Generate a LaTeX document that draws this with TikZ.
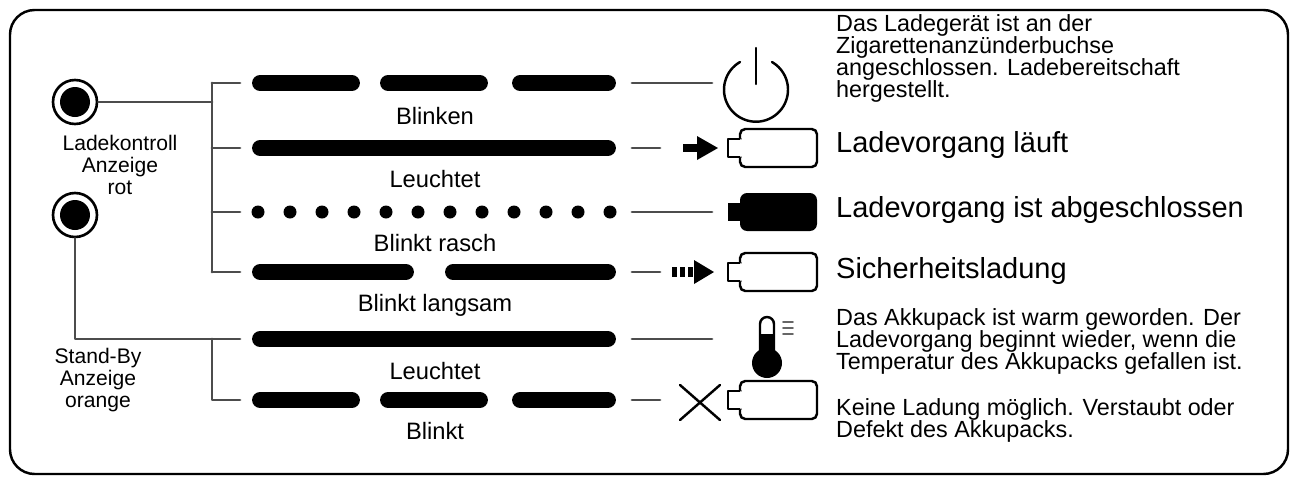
\documentclass[tikz,border=0pt]{standalone}
\usepackage{fontspec}
\setmainfont{Liberation Sans}
\begin{document}
\begin{tikzpicture}[x=0.02cm,y=-0.02cm,line cap=round,line join=round]
	\tikzset{
		wire/.style={line width=1.6pt,black!70},
		bar/.style={line width=9pt,line cap=round},
		lbl/.style={font=\fontsize{13.5}{13.5}\selectfont},
		txt/.style={anchor=west,font=\fontsize{16.5}{16.5}\selectfont},
		small/.style={anchor=north west,align=left,font=\fontsize{13.3}{12.6}\selectfont},
		side/.style={align=center,font=\fontsize{12}{12.6}\selectfont},
		batt/.style={line width=1.4pt,rounded corners=3pt}
	}
	\useasboundingbox (0,0) rectangle (1296,484);
	\draw [line width=1.4pt,rounded corners=14pt] (10,10) rectangle (1288,474);
	% LEDs
	\node (ledA) [circle,draw,line width=1.5pt,minimum size=0.88cm] at (75,102) {};
	\fill (ledA) circle (15);
	\node (ledB) [circle,draw,line width=1.5pt,minimum size=0.88cm] at (75,215) {};
	\fill (ledB) circle (15);
	\node (tA) [side] at (120,165) {Ladekontroll\\Anzeige\\rot};
	\node (tB) [side] at (98,380) {Stand-By\\Anzeige\\orange};
	% wiring
	\coordinate (jA) at (212,102);
	\coordinate (jB) at (75,339);
	\draw [wire] (ledA) -- (jA);
	\draw [wire] (212,83) -- (212,272);
	\foreach \y in {83,148,212,272} \draw [wire] (212,\y) -- (240,\y);
	\draw [wire] (ledB) -- (jB) -- (240,339);
	\draw [wire] (212,339) -- (212,400) -- (240,400);
	% patterns
	\foreach \a/\b in {260/352,388/480,520/608} {
		\draw [bar] (\a,83) -- (\b,83);
		\draw [bar] (\a,400) -- (\b,400);
	}
	\draw [bar] (260,148) -- (608,148);
	\draw [bar] (260,339) -- (608,339);
	\foreach \i in {0,...,11} \fill (258+\i*32,212) circle (6.5);
	\draw [bar] (260,272) -- (406,272);
	\draw [bar] (453,272) -- (608,272);
	\node (l1) [lbl] at (435,116) {Blinken};
	\node (l2) [lbl] at (435,179) {Leuchtet};
	\node (l3) [lbl] at (435,243) {Blinkt rasch};
	\node (l4) [lbl] at (435,305) {Blinkt langsam};
	\node (l5) [lbl] at (435,371) {Leuchtet};
	\node (l6) [lbl] at (435,431) {Blinkt};
	% connectors
	\draw [wire] (632,83) -- (712,83);
	\draw [wire] (632,148) -- (660,148);
	\draw [wire] (632,212) -- (712,212);
	\draw [wire] (632,272) -- (660,272);
	\draw [wire] (632,339) -- (712,339);
	\draw [wire] (632,400) -- (660,400);
	% icons
	\draw [line width=1.4pt] (740,62) arc (-120:-420:32);
	\draw [line width=1.4pt] (756,48) -- (756,84);
	\fill (683,144) rectangle (699,152);
	\fill (697,136) -- (718,148) -- (697,160) -- cycle;
	\foreach \x in {672,680,688} \fill (\x,267) rectangle (\x+5,277);
	\fill (694,260) -- (714,272) -- (694,284) -- cycle;
	\foreach \y in {148,272,400} {
		\draw [batt] (740,\y-19) rectangle (817,\y+19);
		\draw [line width=1.4pt,fill=white] (728,\y-9) rectangle (741,\y+9);
		\draw [white,line width=1.6pt] (741,\y-8) -- (741,\y+8);
	}
	\fill [rounded corners=4pt] (740,193) rectangle (817,231);
	\fill (728,203) rectangle (742,221);
	\draw [line width=1.4pt] (680,385) -- (720,420) (680,420) -- (720,385);
	% thermometer
	\draw [line width=1.4pt] (760,356) -- (760,324) arc (180:360:7) -- (774,356);
	\fill (760,334) rectangle (774,360);
	\fill (767,363) circle (15);
	\draw [line width=1pt,black!60] (783,322) -- (793,322) (783,328) -- (793,328) (783,334) -- (793,334);
	% texts
	\node (r1) [small] at (830,8) {Das Ladegerät ist an der\\Zigarettenanzünderbuchse\\angeschlossen. Ladebereitschaft\\hergestellt.};
	\node (r2) [txt] at (830,145) {Ladevorgang läuft};
	\node (r3) [txt] at (830,210) {Ladevorgang ist abgeschlossen};
	\node (r4) [txt] at (830,271) {Sicherheitsladung};
	\node (r5) [small] at (830,302) {Das Akkupack ist warm geworden. Der\\Ladevorgang beginnt wieder, wenn die\\Temperatur des Akkupacks gefallen ist.};
	\node (r6) [small] at (830,392) {Keine Ladung möglich. Verstaubt oder\\Defekt des Akkupacks.};
\end{tikzpicture}
\end{document}
